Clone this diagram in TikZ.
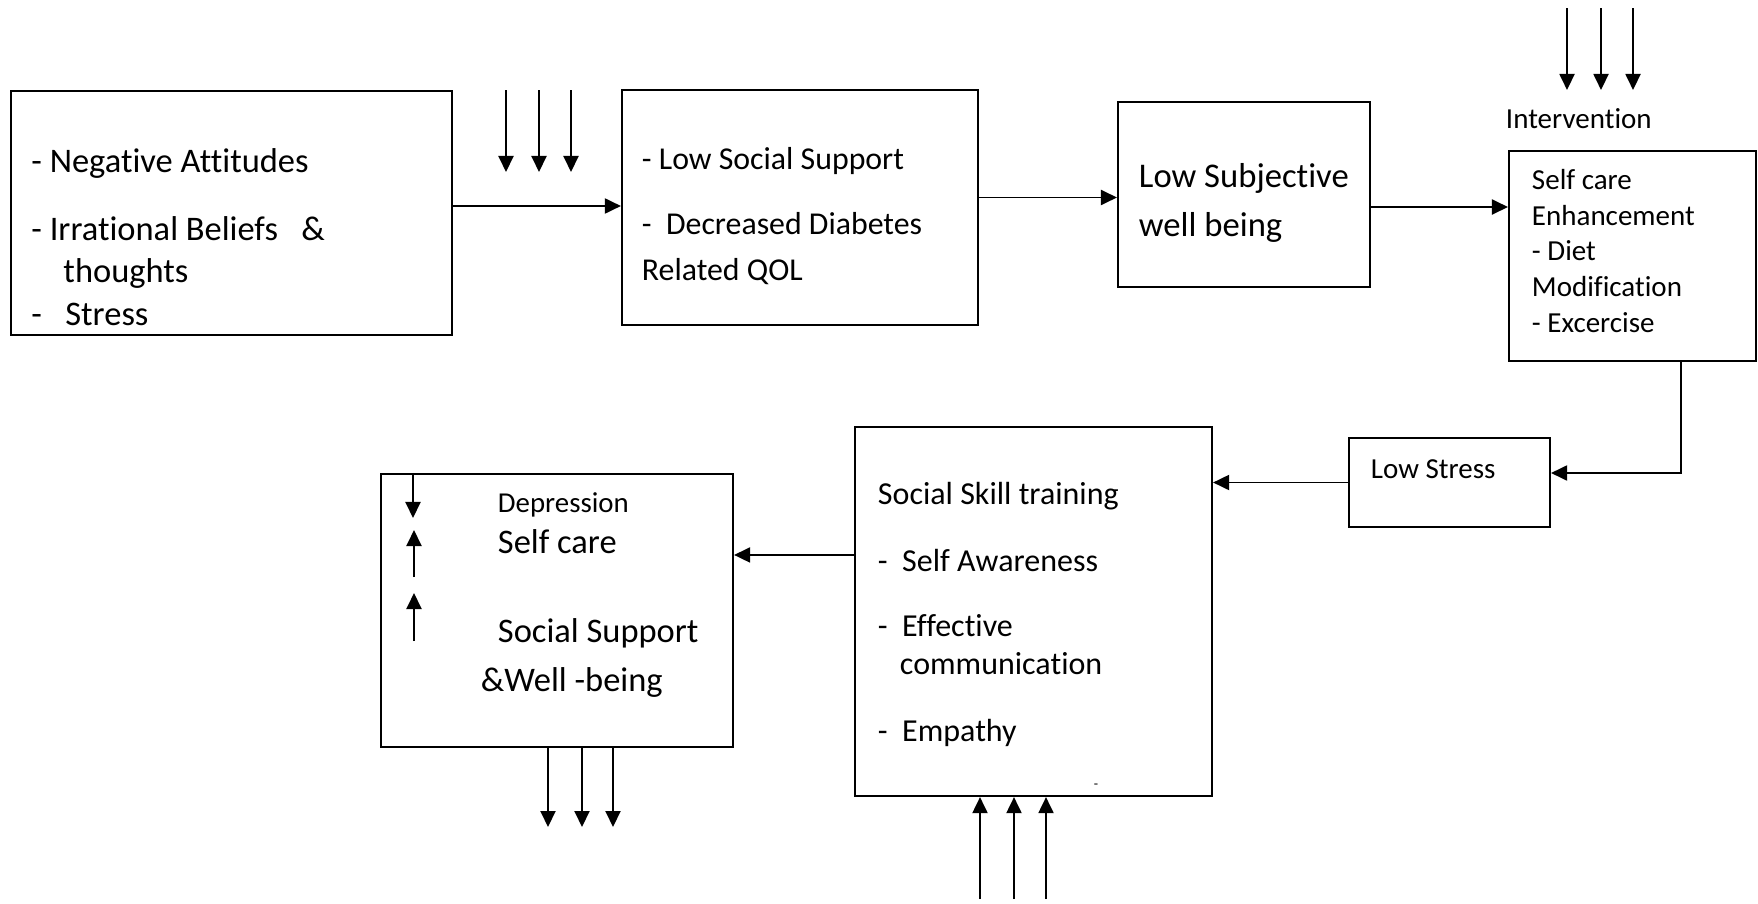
\documentclass[tikz,border=0pt]{standalone}
\usepackage{fontspec}
\setmainfont{Carlito}[Ligatures=NoCommon]
\usetikzlibrary{arrows.meta}

\newcommand{\bxfont}[2]{\fontsize{#1}{#2}\selectfont}

\tikzset{
  blk/.style 2 args={draw, inner sep=0pt, minimum width=#1, minimum height=#2},
  txt/.style={anchor=base west, align=left, inner sep=0pt},
}

\begin{document}
\begin{tikzpicture}[x=0.01cm, y=-0.01cm, ->, >={Triangle[length=0.16cm,width=0.15cm]}, line width=0.55pt]
   \useasboundingbox (0,0) rectangle (1758,903);

   % boxes
   \node [blk={4.41cm}{2.44cm}] (neg) at (231.5,213) {};
   \node [blk={3.56cm}{2.35cm}] (lowsup) at (800,207.5) {};
   \node [blk={2.52cm}{1.85cm}] (lowswb) at (1244,194.5) {};
   \node [blk={2.47cm}{2.10cm}] (selfcare) at (1632.5,256) {};
   \node [blk={2.01cm}{0.89cm}] (lowstress) at (1449.5,482.5) {};
   \node [blk={3.57cm}{3.69cm}] (skill) at (1033.5,611.5) {};
   \node [blk={3.52cm}{2.73cm}] (result) at (557,610.5) {};

   % texts (base = baseline of the last line)
   \node [txt, font=\bxfont{9.8}{11.95}] (negtxt) at (30.5,325)
      {- Negative Attitudes\\[0.265cm] - Irrational Beliefs\ \ \ \&\\ \hspace*{0.32cm}thoughts\\ -\ \ \ Stress};
   \node [txt, font=\bxfont{9.05}{12.8}] (lowsuptxt) at (641,280)
      {- Low Social Support\\[0.2cm] -\ \ Decreased Diabetes\\ Related QOL};
   \node [txt, font=\bxfont{9.85}{13.66}] (lowswbtxt) at (1138,236) {Low Subjective\\ well being};
   \node [txt, font=\bxfont{8.25}{10.1}] (selfcaretxt) at (1531,332)
      {Self care\\ Enhancement\\ - Diet\\ Modification\\ - Excercise};
   \node [txt, font=\bxfont{8.25}{10.1}] (interv) at (1505,128) {Intervention};
   \node [txt, font=\bxfont{8.25}{10.1}] (lowstresstxt) at (1370,478) {Low Stress};
   \node [txt, font=\bxfont{9.1}{10.8}] (skilltxt) at (877,741)
      {Social Skill training\\[0.29cm] -\ \ Self Awareness\\[0.27cm] -\ \ Effective\\ \hspace*{0.22cm}communication\\[0.29cm] -\ \ Empathy};
   \node [txt, font=\bxfont{8.2}{10}] (deptxt) at (497,512) {Depression};
   \node [txt, font=\bxfont{9.8}{13.66}] (resulttxt) at (480,691)
      {\hspace*{0.17cm}Self care\\[0.41cm] \hspace*{0.17cm}Social Support\\ \&Well -being};
   \node [font=\bxfont{4}{5}, inner sep=0pt] (mark) at (1096,786) {-};

   % flow
   \draw ([yshift=0.07cm]neg.east) -- ([yshift=0.07cm]neg.east -| lowsup.west);
   \draw ([yshift=0.1cm]lowsup.east) -- ([yshift=0.1cm]lowsup.east -| lowswb.west);
   \draw ([yshift=-0.125cm]lowswb.east) -- ([yshift=-0.125cm]lowswb.east -| selfcare.west);
   \draw ([xshift=0.485cm]selfcare.south) |- ([yshift=0.095cm]lowstress.east);
   \draw (lowstress.west) -- (lowstress.west -| skill.east);
   \draw ([yshift=0.565cm]skill.west) -- ([yshift=0.565cm]skill.west -| result.east);

   % groups of three arrows
   \foreach \x [count=\i] in {506,539,571} {
      \coordinate (ina\i) at (\x,90);
      \coordinate (inat\i) at (\x,172);
      \draw (ina\i) -- (inat\i);
   }
   \foreach \x [count=\i] in {1567,1601,1633} {
      \coordinate (inb\i) at (\x,8);
      \coordinate (inbt\i) at (\x,90);
      \draw (inb\i) -- (inbt\i);
   }
   \foreach \x [count=\i] in {980,1014,1046} {
      \coordinate (inc\i) at (\x,899);
      \draw (inc\i) -- (inc\i |- skill.south);
   }
   \foreach \x [count=\i] in {548,582,613} {
      \coordinate (out\i) at (\x,827);
      \draw (out\i |- result.south) -- (out\i);
   }

   % small arrows in the result box
   \coordinate (dn) at (413,518);
   \coordinate (upa) at (414,577);
   \coordinate (upat) at (414,530);
   \coordinate (upb) at (414,641);
   \coordinate (upbt) at (414,593);
   \draw (dn |- result.north) -- (dn);
   \draw (upa) -- (upat);
   \draw (upb) -- (upbt);
\end{tikzpicture}
\end{document}
